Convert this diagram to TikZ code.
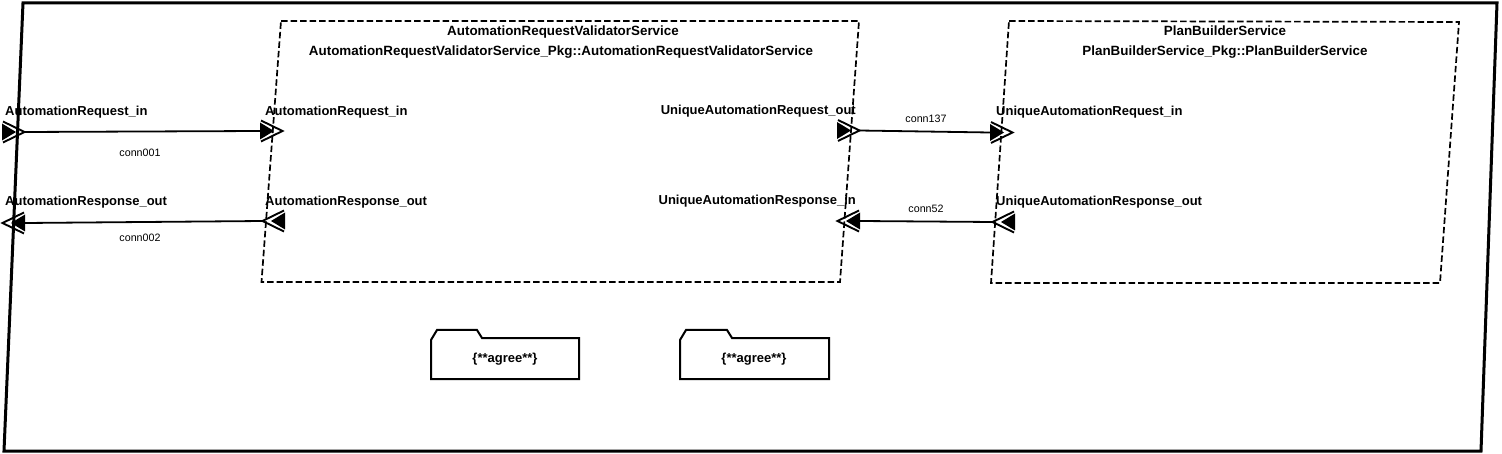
\documentclass[tikz,border=0pt]{standalone}
\usepackage{fontspec}
\setmainfont{Liberation Sans}
\begin{document}
\begin{tikzpicture}[x=1pt,y=-1pt,
  frame/.style={line width=3pt,line join=miter},
  compbox/.style={line width=1.7pt,dash pattern=on 6.5pt off 3pt},
  agreebox/.style={line width=2pt,line join=miter},
  conn/.style={line width=1.8pt},
  plabel/.style={inner sep=0pt,font=\fontsize{13}{15}\selectfont\bfseries},
  tlabel/.style={inner sep=0pt,font=\fontsize{13.4}{15}\selectfont\bfseries},
  clabel/.style={inner sep=0pt,font=\fontsize{10.7}{12}\selectfont},
  portR/.pic={\fill (0,-8.5) -- (14,0) -- (0,8.5) -- cycle;
              \draw[line width=1.9pt,line cap=butt,line join=miter] (1,-10.5) -- (22.5,0) -- (1,10.5);},
  portL/.pic={\fill (0,-8.5) -- (-14,0) -- (0,8.5) -- cycle;
              \draw[line width=1.9pt,line cap=butt,line join=miter] (-1,-10.5) -- (-22.5,0) -- (-1,10.5);}
]
\useasboundingbox (0,0) rectangle (1502,454);
\fill[white] (0,0) rectangle (1502,454);

% outer frame
\draw[frame] (23,3) -- (1497,3) -- (1481,451) -- (4,451) -- cycle;

% component boxes
\draw[compbox] (281,21) -- (859,21) -- (840,282) -- (261.5,282) -- cycle;
\draw[compbox] (1009,21) -- (1459,22) -- (1440,283) -- (991,283) -- cycle;

% titles
\node[tlabel,anchor=base] (t1a) at (563,36) {AutomationRequestValidatorService};
\node[tlabel,anchor=base] (t1b) at (561,56) {AutomationRequestValidatorService\_Pkg::AutomationRequestValidatorService};
\node[tlabel,anchor=base] (t2a) at (1225,36) {PlanBuilderService};
\node[tlabel,anchor=base] (t2b) at (1225,56) {PlanBuilderService\_Pkg::PlanBuilderService};

% port coordinates (base) and tips
\coordinate (oreq) at (2,132);      \coordinate (oreqT) at (24,132);
\coordinate (b1req) at (260,131);
\coordinate (ores) at (25,223);
\coordinate (b1res) at (285,221);   \coordinate (b1resT) at (263,221);
\coordinate (b1uout) at (837,130.5); \coordinate (b1uoutT) at (859,130.5);
\coordinate (b2uin) at (990,132.5);
\coordinate (b2uout) at (1015,222); \coordinate (b2uoutT) at (993,222);
\coordinate (b1uin) at (860,221);

% connectors
\draw[conn] (oreqT) -- (b1req);
\draw[conn] (b1resT) -- (ores);
\draw[conn] (b1uoutT) -- (b2uin);
\draw[conn] (b2uoutT) -- (b1uin);

% port markers
\pic at (oreq) {portR};
\pic at (b1req) {portR};
\pic at (ores) {portL};
\pic at (b1res) {portL};
\pic at (b1uout) {portR};
\pic at (b2uin) {portR};
\pic at (b2uout) {portL};
\pic at (b1uin) {portL};

% port labels
\node[plabel,anchor=base west] (l1) at (5,116) {AutomationRequest\_in};
\node[plabel,anchor=base west] (l2) at (5,206) {AutomationResponse\_out};
\node[plabel,anchor=base west] (l3) at (265,116) {AutomationRequest\_in};
\node[plabel,anchor=base west] (l4) at (265,206) {AutomationResponse\_out};
\node[plabel,anchor=base east] (l5) at (856,115) {UniqueAutomationRequest\_out};
\node[plabel,anchor=base east] (l6) at (856,205) {UniqueAutomationResponse\_in};
\node[plabel,anchor=base west] (l7) at (996,116) {UniqueAutomationRequest\_in};
\node[plabel,anchor=base west] (l8) at (996,206) {UniqueAutomationResponse\_out};

% connector labels
\node[clabel,anchor=base] (c1) at (140,157) {conn001};
\node[clabel,anchor=base] (c2) at (140,242) {conn002};
\node[clabel,anchor=base] (c3) at (926,123) {conn137};
\node[clabel,anchor=base] (c4) at (926,213) {conn52};

% agree boxes
\draw[agreebox] (431,379) -- (431,340) -- (437,330) -- (477,330) -- (482,338) -- (579,338) -- (579,379) -- cycle;
\draw[agreebox] (680,379) -- (680,340) -- (686,330) -- (727,330) -- (732,338) -- (829,338) -- (829,379) -- cycle;
\node[plabel,anchor=base] (a1) at (505,362) {\{**agree**\}};
\node[plabel,anchor=base] (a2) at (754,362) {\{**agree**\}};
\end{tikzpicture}
\end{document}
